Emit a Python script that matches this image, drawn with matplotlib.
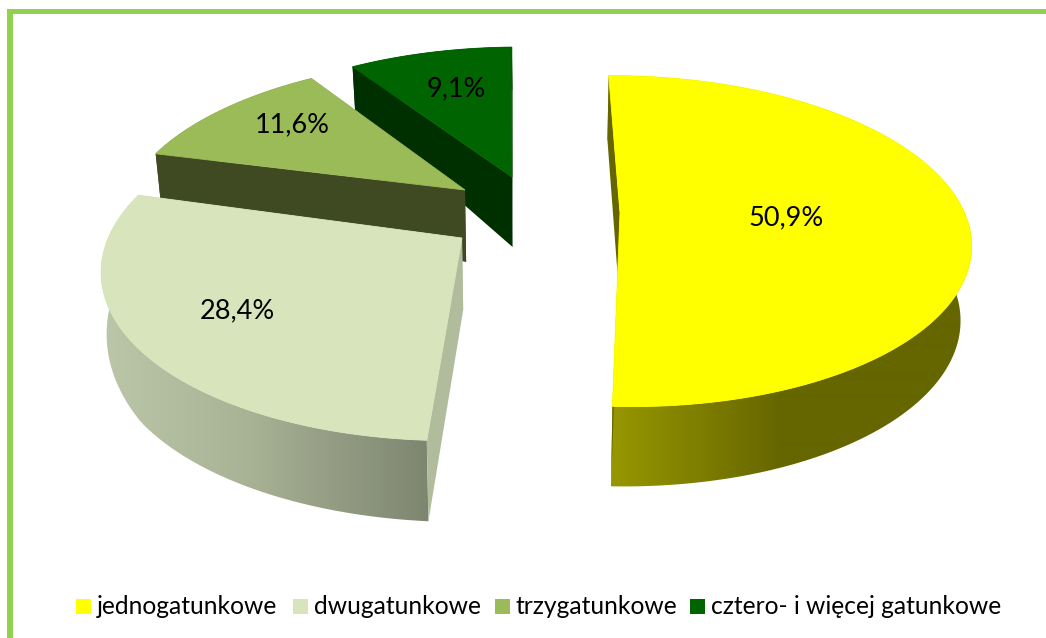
import matplotlib

matplotlib.use("Agg")

import matplotlib.pyplot as plt
import numpy as np
from matplotlib.colors import to_rgb
from matplotlib.patches import Polygon, Rectangle

categories = ["jednogatunkowe", "dwugatunkowe", "trzygatunkowe", "cztero- i więcej gatunkowe"]
shares = [50.9, 28.4, 11.6, 9.1]

top_colors = ["#FFFF00", "#D7E4BC", "#9BBB59", "#006400"]
cut_colors = ["#666600", "#B0BC9C", "#404A22", "#002F00"]
# side wall gradient stops: (screen x, colour)
wall_stops = [
    [(612, "#979700"), (780, "#666600"), (980, "#666600")],
    [(100, "#BCC6A8"), (250, "#A8B294"), (430, "#7D8570")],
    [(100, "#404A22"), (500, "#404A22")],
    [(300, "#002F00"), (520, "#002F00")],
]

# perspective of the pie plane, in pixels
CY = 225
RX, RY = 349, 160
K = 0.167
START = -0.5

# per slice: vanishing x, tip on screen, angle nudge, radius factors,
# wall depth at (start, mid, end) of arc and at tip
vanish_x = [560, 515, 560, 560]
tips = [(620, 213), (462, 238), (465, 190), (512, 177)]
angle_shift = [0, 0.5, -0.7, -0.9]
radius_x = [1.0, 1.0, 1.0, 1.01]
radius_y = [1.03, 1.02, 1.03, 1.05]
depth_arc = [(64, 74, 80), (81, 76, 46), (46, 45, 44), (43, 43, 43)]
depth_tip = [72, 72, 72, 70]
lean = [0.027, 0.012, 0.012, 0.012]
label_xy = [(786, 218), (237, 311), (292, 125), (456, 89)]
legend_box_x = [76, 293, 495, 690]
legend_text_x = [97, 314, 516, 711]


def project(x, y, cx):
    w = 1 - K * y
    return cx + RX * x / w, CY + RY * y / w


def unproject(sx, sy, cx):
    y = (sy - CY) / (RY + K * (sy - CY))
    return (sx - cx) * (1 - K * y) / RX, y


def drop(sx, sy, depth, slope):
    # vertical edges lean toward the middle of the pie
    return sx - slope * (sx - 560), sy + depth


def gradient(stops):
    xs = [s[0] for s in stops]
    rgb = np.array([to_rgb(s[1]) for s in stops])
    grid = np.arange(1046)
    return np.stack([np.interp(grid, xs, rgb[:, c]) for c in range(3)], axis=-1)[np.newaxis, :, :]


fig = plt.figure(figsize=(10.46, 6.38), dpi=100)
ax = fig.add_axes([0, 0, 1, 1])

ax.add_patch(Rectangle((7, 8.5), 1040, 5.5, color="#92D050", lw=0))
ax.add_patch(Rectangle((7, 8.5), 5.5, 630, color="#92D050", lw=0))

sweeps = np.array(shares) / sum(shares) * 360
starts = START + np.concatenate(([0], np.cumsum(sweeps)[:-1]))

z = 2
# back to front, so nearer slices cover farther ones
for i in [3, 2, 1, 0]:
    begin = starts[i] + angle_shift[i]
    t = np.radians(np.linspace(begin, begin + sweeps[i], 200))
    x0, y0 = unproject(*tips[i], vanish_x[i])
    arc = np.column_stack(project(x0 + radius_x[i] * np.sin(t), y0 - radius_y[i] * np.cos(t), vanish_x[i]))
    depths = np.interp(np.linspace(0, 1, 200), [0, 0.5, 1], depth_arc[i])
    low = np.column_stack(drop(arc[:, 0], arc[:, 1], depths, lean[i]))
    tip = np.array(tips[i], dtype=float)
    tip_low = np.array(drop(tip[0], tip[1], depth_tip[i], lean[i]))

    # outer wall: horizontal gradient clipped to the band under the rim
    wall = Polygon(np.vstack([arc, low[::-1]]), closed=True, transform=ax.transData, fc="none", ec="none")
    ax.add_patch(wall)
    img = ax.imshow(gradient(wall_stops[i]), extent=(0, 1046, 638, 0), aspect="auto", zorder=z,
                    interpolation="bilinear")
    img.set_clip_path(wall)
    z += 1

    # the cut faces of the slice
    for edge, edge_low in ((arc[0], low[0]), (arc[-1], low[-1])):
        ax.add_patch(Polygon([tip, edge, edge_low, tip_low], closed=True, fc=cut_colors[i], ec="none", zorder=z))
        z += 1

    ax.add_patch(Polygon(np.vstack([tip, arc]), closed=True, fc=top_colors[i], ec=top_colors[i], lw=0.6, zorder=z))
    z += 1

for i, share in enumerate(shares):
    ax.text(*label_xy[i], f"{share:.1f}%".replace(".", ","), family="Lato", fontsize=19.5,
            color="black", ha="center", va="center", zorder=z)
    ax.add_patch(Rectangle((legend_box_x[i], 599), 15, 15, color=top_colors[i], lw=0))
    ax.text(legend_text_x[i], 606, categories[i], family="Lato", fontsize=17.7,
            color="black", ha="left", va="center")

ax.set_xlim(0, 1046)
ax.set_ylim(638, 0)
ax.axis("off")

fig.savefig("out.png", dpi=100)
plt.close(fig)
